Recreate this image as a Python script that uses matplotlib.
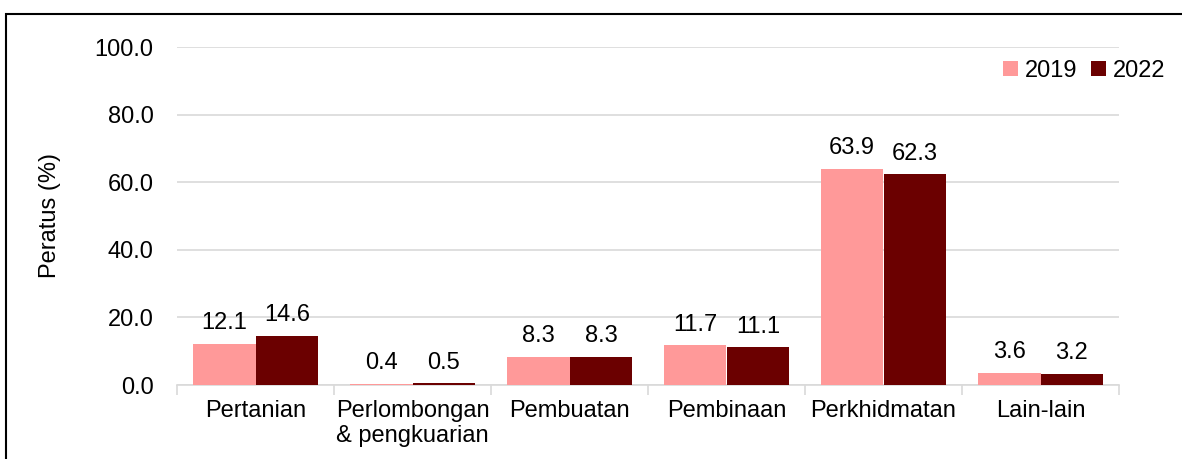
import matplotlib
matplotlib.use("Agg")
import matplotlib.pyplot as plt
import numpy as np
from matplotlib.patches import Rectangle

categories = ["Pertanian", "Perlombongan\n& pengkuarian", "Pembuatan", "Pembinaan", "Perkhidmatan", "Lain-lain"]
series_names = ["2019", "2022"]
values_2019 = [12.1, 0.4, 8.3, 11.7, 63.9, 3.6]
values_2022 = [14.6, 0.5, 8.3, 11.1, 62.3, 3.2]
yticks = [0, 20, 40, 60, 80, 100]

plt.rcParams['font.family'] = ['Liberation Sans', 'DejaVu Sans']
fs = 17

fig = plt.figure(figsize=(11.82, 4.59), dpi=100)
ax = fig.add_axes([177/1182, 1-385/459, (1119-177)/1182, (385-47)/459])

x = np.arange(len(categories))
w = 0.4
c1 = "#FF9999"
c2 = "#6B0000"
b1 = ax.bar(x - w/2, values_2019, w, color=c1, label=series_names[0], zorder=3)
b2 = ax.bar(x + w/2, values_2022, w, color=c2, label=series_names[1], zorder=3)

for bars, vals in ((b1, values_2019), (b2, values_2022)):
    for b, v in zip(bars, vals):
        ax.annotate(f"{v:.1f}", (b.get_x() + b.get_width()/2, v), xytext=(0, 7),
                    textcoords="offset points", ha="center", va="bottom", fontsize=fs)

ax.set_xlim(-0.5, len(categories) - 0.5)
ax.set_ylim(0, 100)
ax.set_yticks(yticks)
ax.set_yticklabels([f"{t:.1f}" for t in yticks], fontsize=fs)
ax.tick_params(axis='y', length=0, pad=17)
ax.yaxis.grid(True, color="#D9D9D9", linewidth=1.2, zorder=0)
ax.set_axisbelow(True)

ax.set_xticks(x)
ax.set_xticklabels(categories, fontsize=fs, linespacing=1.15)
ax.tick_params(axis='x', length=0, pad=11)
ax.set_xticks(np.arange(-0.5, len(categories), 1), minor=True)
ax.tick_params(axis='x', which='minor', length=7, color="#D9D9D9", width=1.2)

for s in ["top", "right", "left"]:
    ax.spines[s].set_visible(False)
ax.spines["bottom"].set_color("#D9D9D9")
ax.spines["bottom"].set_linewidth(1.2)

ax.set_ylabel("Peratus (%)", fontsize=fs)
ax.yaxis.set_label_coords(-(177-61)/942, 0.5)

leg = ax.legend(loc="upper right", bbox_to_anchor=(1.059, 0.99), ncol=2, frameon=True, fontsize=fs,
                handlelength=0.6, handleheight=0.6, handletextpad=0.3, columnspacing=0.6,
                borderaxespad=0)
leg.get_frame().set_edgecolor("white")
leg.get_frame().set_facecolor("white")
leg.get_frame().set_alpha(1)
leg.set_zorder(5)

fig.patches.append(Rectangle((6/1182, -0.1), 1.2, 1-14/459 + 0.1, transform=fig.transFigure,
                             fill=False, edgecolor="black", linewidth=1.5))

fig.savefig("out.png", dpi=100)
